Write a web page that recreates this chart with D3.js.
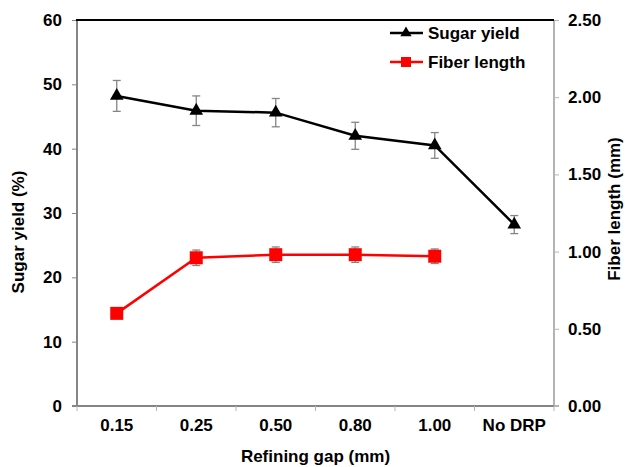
<!DOCTYPE html>
<html><head><meta charset="utf-8">
<script src="https://cdn.jsdelivr.net/npm/d3@7"></script>
<style>body{margin:0;background:#fff}text{font-family:"Liberation Sans",Arial,sans-serif;font-weight:bold;fill:#000}</style>
</head><body>
<svg id="c" width="625" height="467"></svg>
<script>
const categories = ["0.15","0.25","0.50","0.80","1.00","No DRP"];
const sugarYield = [48.2, 45.9, 45.6, 42.0, 40.5, 28.2];
const sugarErr   = [2.4, 2.3, 2.2, 2.1, 2.0, 1.4];
const fiberLength = [0.60, 0.96, 0.98, 0.98, 0.97];
const fiberErr    = [0.02, 0.05, 0.05, 0.05, 0.047];
const leftTicks = [0,10,20,30,40,50,60];
const rightTicks = [0,0.5,1.0,1.5,2.0,2.5];

const svg = d3.select("#c");
const L=77, R=554, T=20, B=406;
const FS="17px";
const x = d3.scaleBand().domain(categories).range([L,R]).padding(0);
const yL = d3.scaleLinear().domain([0,60]).range([B,T]);
const yR = d3.scaleLinear().domain([0,2.5]).range([B,T]);
const cx = c => x(c)+x.bandwidth()/2;
const grey="#858585", lightGrey="#b4b4b4";

// axes
const gl = svg.append("g").attr("transform",`translate(${L},0)`)
  .call(d3.axisLeft(yL).tickValues(leftTicks).tickSize(5).tickPadding(10).tickFormat(d3.format("d")));
const gr = svg.append("g").attr("transform",`translate(${R},0)`)
  .call(d3.axisRight(yR).tickValues(rightTicks).tickSize(5).tickPadding(9).tickFormat(d3.format(".2f")));
const gb = svg.append("g").attr("transform",`translate(0,${B})`)
  .call(d3.axisBottom(x).tickSize(0).tickPadding(13));
[gl,gr,gb].forEach(g=>{
  g.selectAll(".domain").attr("stroke",grey).attr("stroke-width",2);
  g.selectAll(".tick line").attr("stroke",grey).attr("stroke-width",1);
  g.selectAll("text").style("font-size",FS).style("font-family","Liberation Sans, Arial, sans-serif").style("font-weight","bold").attr("fill","#000");
});
gr.selectAll(".domain").attr("stroke",lightGrey);
gr.selectAll(".tick line").attr("stroke",lightGrey);
gl.select(".domain").attr("d",`M-5,${B}H0V${T}`);
gr.select(".domain").attr("d",`M5,${B}H0V${T}`);
gb.select(".domain").attr("d",`M${L},0H${R}`);
// boundary ticks on x axis
svg.append("g").selectAll("line").data(categories.concat(["end"])).join("line")
  .attr("x1",(d,i)=>L+i*x.bandwidth()).attr("x2",(d,i)=>L+i*x.bandwidth())
  .attr("y1",B).attr("y2",B+5).attr("stroke",lightGrey).attr("stroke-width",1);
// top border
svg.append("line").attr("x1",L-1).attr("x2",R).attr("y1",T).attr("y2",T).attr("stroke","#000").attr("stroke-width",2);

// titles
svg.append("text").attr("x",(L+R)/2).attr("y",462).attr("text-anchor","middle").style("font-size",FS).text("Refining gap (mm)");
svg.append("text").attr("transform","translate(24,232) rotate(-90)").attr("text-anchor","middle").style("font-size",FS).text("Sugar yield (%)");
svg.append("text").attr("transform","translate(620,209) rotate(-90)").attr("text-anchor","middle").style("font-size",FS).text("Fiber length (mm)");

// error bars
function errBars(vals, errs, y){
  const g = svg.append("g");
  vals.forEach((v,i)=>{
    const xc = cx(categories[i]);
    g.append("line").attr("x1",xc).attr("x2",xc).attr("y1",y(v+errs[i])).attr("y2",y(v-errs[i])).attr("stroke",grey).attr("stroke-width",1.3);
    [v+errs[i], v-errs[i]].forEach(e=>g.append("line").attr("x1",xc-4).attr("x2",xc+4).attr("y1",y(e)).attr("y2",y(e)).attr("stroke",grey).attr("stroke-width",1.3));
  });
}
errBars(sugarYield, sugarErr, yL);
errBars(fiberLength, fiberErr, yR);

const line = y => d3.line().x((d,i)=>cx(categories[i])).y(d=>y(d));
svg.append("path").datum(sugarYield).attr("d",line(yL)).attr("fill","none").attr("stroke","#000").attr("stroke-width",2.5);
svg.append("path").datum(fiberLength).attr("d",line(yR)).attr("fill","none").attr("stroke","#ff0000").attr("stroke-width",2.5);

const tri = d3.symbol().type(d3.symbolTriangle).size(80);
svg.append("g").selectAll("path").data(sugarYield).join("path")
  .attr("d",tri).attr("transform",(d,i)=>`translate(${cx(categories[i])},${yL(d)})`).attr("fill","#000");
svg.append("g").selectAll("rect").data(fiberLength).join("rect")
  .attr("x",(d,i)=>cx(categories[i])-6.5).attr("y",d=>yR(d)-6.5).attr("width",13).attr("height",13).attr("fill","#ff0000");

// legend
const leg = [{name:"Sugar yield",color:"#000",shape:"tri"},{name:"Fiber length",color:"#ff0000",shape:"sq"}];
const lg = svg.append("g");
leg.forEach((d,i)=>{
  const yy = 33 + i*29;
  lg.append("line").attr("x1",390).attr("x2",423).attr("y1",yy).attr("y2",yy).attr("stroke",d.color).attr("stroke-width",2.5);
  if(d.shape==="tri") lg.append("path").attr("d",d3.symbol().type(d3.symbolTriangle).size(55)).attr("transform",`translate(406,${yy})`).attr("fill",d.color);
  else lg.append("rect").attr("x",401).attr("y",yy-5).attr("width",10).attr("height",10).attr("fill",d.color);
  lg.append("text").attr("x",428).attr("y",yy).attr("dy","0.35em").style("font-size",FS).text(d.name);
});
</script>
</body></html>
